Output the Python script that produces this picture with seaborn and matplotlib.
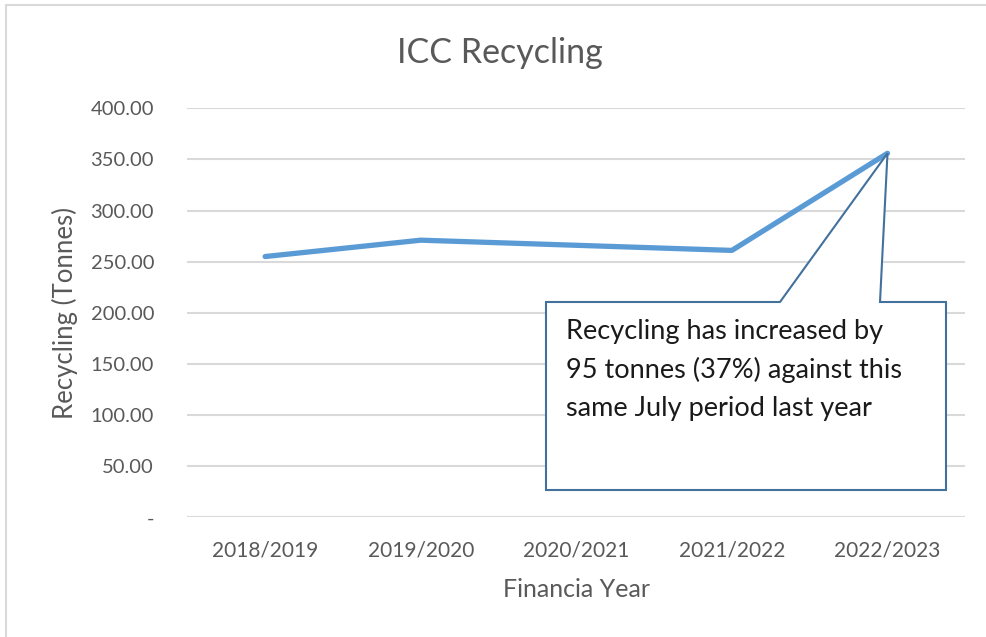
import matplotlib

matplotlib.use("Agg")
import matplotlib.pyplot as plt
import pandas as pd
import seaborn as sns
from matplotlib.lines import Line2D
from matplotlib.patches import Polygon

years = ["2018/2019", "2019/2020", "2020/2021", "2021/2022", "2022/2023"]
tonnes = [255.0, 271.0, 266.0, 261.0, 356.0]
y_ticks = [0, 50, 100, 150, 200, 250, 300, 350, 400]
y_tick_labels = ["-", "50.00", "100.00", "150.00", "200.00", "250.00", "300.00", "350.00", "400.00"]
note = "Recycling has increased by\n95 tonnes (37%) against this\nsame July period last year"

sns.set_theme(style="white")
plt.rcParams["font.family"] = ["Lato", "DejaVu Sans"]

df = pd.DataFrame({"year": years, "tonnes": tonnes})
text_c = "#595959"

fig = plt.figure(figsize=(9.86, 6.37), dpi=100, facecolor="white")
ax = fig.add_axes([0.19, 0.188, 0.789, 0.642])

sns.lineplot(data=df, x="year", y="tonnes", ax=ax, color="#5B9BD5", linewidth=3.8,
             sort=False, solid_capstyle="round", zorder=3)

ax.set_ylim(0, 400)
ax.set_xlim(-0.5, 4.5)
ax.set_yticks(y_ticks)
ax.set_yticklabels(y_tick_labels)
ax.grid(axis="y", color="#D9D9D9", linewidth=1.5)
ax.set_axisbelow(True)
for s in ax.spines.values():
    s.set_visible(False)
ax.tick_params(axis="both", colors=text_c, labelsize=14.5, length=0)
ax.tick_params(axis="x", labelsize=15, pad=17)
ax.tick_params(axis="y", pad=24)
ax.set_xlabel("Financia Year", color=text_c, fontsize=18, labelpad=12)
ax.set_ylabel("Recycling (Tonnes)", color=text_c, fontsize=18.5, labelpad=9)
fig.text(500 / 986, 0.917, "ICC Recycling", ha="center", va="center", fontsize=24.5, color=text_c)

# callout box (data coords: x in category index, y in tonnes)
tx = ax.transData.inverted()
def px(x, y):
    return tx.transform(fig.transFigure.transform((x / 986, 1 - y / 637)))

tip = (4, tonnes[4])
corners = [px(546, 302), px(780, 302), tip, px(880, 302), px(946, 302), px(946, 490), px(546, 490)]
callout = Polygon(corners, closed=True, facecolor="white", edgecolor="#41719C",
                  linewidth=1.5, zorder=4)
ax.add_patch(callout)
ax.text(*px(566, 370), note, fontsize=19.5, color="#1a1a1a", va="center", ha="left",
        linespacing=1.62, zorder=5)

# thin frame on top and left edge
fig.add_artist(Line2D([6 / 986, 1], [1 - 5 / 637] * 2, color="#D9D9D9", linewidth=1.5,
                      transform=fig.transFigure))
fig.add_artist(Line2D([6 / 986] * 2, [0, 1 - 5 / 637], color="#D9D9D9", linewidth=1.5,
                      transform=fig.transFigure))

fig.savefig("out.png", dpi=100, facecolor="white")
plt.close(fig)
